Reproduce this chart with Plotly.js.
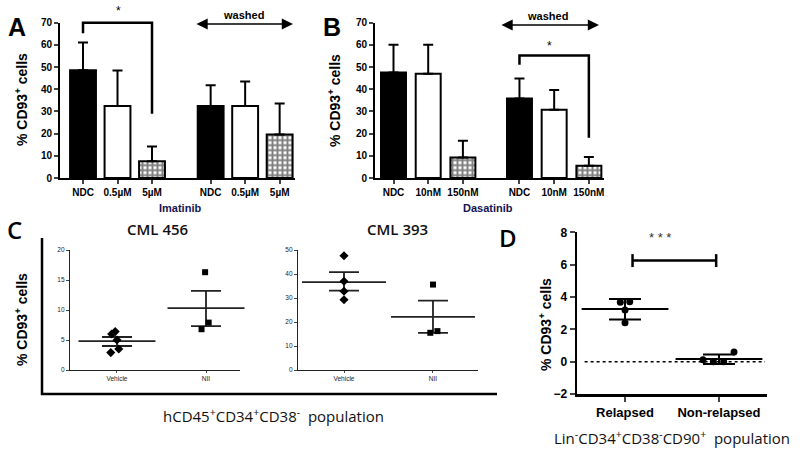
<!DOCTYPE html>
<html>
<head>
<meta charset="utf-8">
<script src="https://cdn.plot.ly/plotly-3.0.1.min.js"></script>
<style>html,body{margin:0;padding:0;background:#fff;}#chart{width:800px;height:455px;}</style>
</head>
<body>
<div id="chart"></div>
<script>
// ---------- DATA ----------
const catsA = ['NDC', '0.5µM', '5µM', 'NDC', '0.5µM', '5µM'];
const meanA = [48.6, 32.4, 7.5, 32.4, 32.4, 19.6];
const sdA = [12.5, 16.1, 6.7, 9.4, 11.1, 14.0];

const catsB = ['NDC', '10nM', '150nM', 'NDC', '10nM', '150nM'];
const meanB = [47.6, 47.0, 9.2, 35.8, 30.8, 5.5];
const sdB = [12.5, 13.1, 7.6, 9.0, 8.9, 4.0];

const groupsC = ['Vehicle', 'NII'];
const c456Vehicle = [6.4, 6.0, 5.0, 3.5, 2.9];
const c456NII = [16.3, 7.9, 6.8];
const c456Mean = [4.8, 10.3];
const c456SemUp = [0.7, 2.9];
const c456SemDown = [0.8, 3.0];

const c393Vehicle = [47.6, 37.0, 32.8, 29.3];
const c393NII = [35.6, 16.2, 15.5];
const c393Mean = [36.6, 22.1];
const c393SemUp = [4.2, 6.8];
const c393SemDown = [3.5, 6.6];

const groupsD = ['Relapsed', 'Non-relapsed'];
const dRelapsed = [3.7, 3.68, 3.19, 2.4];
const dNonRelapsed = [0.12, 0.0, 0.0, 0.6];
const dMean = [3.25, 0.17];
const dSdUp = [0.62, 0.28];
const dSdDown = [0.64, 0.31];

// ---------- LAYOUT HELPERS ----------
const W = 800, H = 455;
const px = x => x / W;
const py = y => 1 - y / H;
const FB = 'Liberation Sans, Arial, sans-serif';
const FO = 'Open Sans, Liberation Sans, sans-serif';

const ax = {
  A: {xd: [60, 295], yd: [178, 22.7], xr: [-0.667, 6.145], yr: [0, 70]},
  B: {xd: [375, 604], yd: [178, 22.7], xr: [-0.533, 6.066], yr: [0, 70]},
  C1: {xd: [70, 240], yd: [370, 250], xr: [-0.528, 1.382], yr: [0, 20]},
  C2: {xd: [298, 478], yd: [370, 250], xr: [-0.517, 1.506], yr: [0, 50]},
  D: {xd: [577, 767], yd: [394, 232.3], xr: [-0.511, 1.511], yr: [-2, 8]}
};
function dx(k, v) { const a = ax[k]; return px(a.xd[0] + (v - a.xr[0]) / (a.xr[1] - a.xr[0]) * (a.xd[1] - a.xd[0])); }
function dy(k, v) { const a = ax[k]; return py(a.yd[0] + (v - a.yr[0]) / (a.yr[1] - a.yr[0]) * (a.yd[1] - a.yd[0])); }
function xdom(k) { return [px(ax[k].xd[0]), px(ax[k].xd[1])]; }
function ydom(k) { return [py(ax[k].yd[0]), py(ax[k].yd[1])]; }

const gapA = 0.7, gapB = 0.63;
const posA = catsA.map((c, i) => i + (i >= 3 ? gapA : 0));
const posB = catsB.map((c, i) => i + (i >= 3 ? gapB : 0));

// kind 0 = solid black, 1 = open, 2 = checkered
function barTraces(pos, mean, sd, xa, ya, width) {
  const out = [];
  for (let kind = 0; kind < 3; kind++) {
    const idx = pos.map((p, i) => i).filter(i => i % 3 === kind);
    const marker = {color: kind === 0 ? 'black' : 'white', line: {color: 'black', width: 2}};
    if (kind === 2) marker.pattern = {shape: '+', fgcolor: 'black', bgcolor: 'white', size: 5, solidity: 0.62, fillmode: 'overlay'};
    out.push({
      type: 'bar', x: idx.map(i => pos[i]), y: idx.map(i => mean[i]), xaxis: xa, yaxis: ya, width: width,
      marker: marker,
      error_y: {type: 'data', symmetric: false, array: idx.map(i => sd[i]), arrayminus: idx.map(() => 0),
        color: 'black', thickness: 2, width: 5},
      hoverinfo: 'skip'
    });
  }
  return out;
}

function pointsTrace(vals, center, jit, xa, ya, symbol, size) {
  return {
    type: 'scatter', mode: 'markers', x: vals.map((v, i) => center + jit[i]), y: vals,
    xaxis: xa, yaxis: ya, cliponaxis: false,
    marker: {symbol: symbol, size: size, color: 'black'}, hoverinfo: 'skip'
  };
}
function meanTrace(means, up, down, xa, ya, lw, capw, color, thick) {
  return {
    type: 'scatter', mode: 'markers', x: means.map((m, i) => i), y: means,
    xaxis: xa, yaxis: ya, cliponaxis: false,
    marker: {symbol: 'line-ew', size: lw, color: color, line: {color: color, width: thick}},
    error_y: {type: 'data', symmetric: false, array: up, arrayminus: down, color: color, thickness: thick, width: capw},
    hoverinfo: 'skip'
  };
}

const data = [].concat(
  barTraces(posA, meanA, sdA, 'x', 'y', 0.75),
  barTraces(posB, meanB, sdB, 'x2', 'y2', 0.72),
  [
    meanTrace(c456Mean, c456SemUp, c456SemDown, 'x3', 'y3', 55, 15, '#222', 1.8),
    pointsTrace(c456Vehicle, 0, [-0.02, -0.06, 0.0, 0.02, -0.07], 'x3', 'y3', 'diamond', 7),
    pointsTrace(c456NII, 1, [-0.01, 0.03, -0.05], 'x3', 'y3', 'square', 6),
    meanTrace(c393Mean, c393SemUp, c393SemDown, 'x4', 'y4', 60, 15, '#222', 1.8),
    pointsTrace(c393Vehicle, 0, [0, 0, 0, 0], 'x4', 'y4', 'diamond', 7),
    pointsTrace(c393NII, 1, [0.0, 0.05, -0.03], 'x4', 'y4', 'square', 6),
    meanTrace(dMean, dSdUp, dSdDown, 'x5', 'y5', 62, 16, 'black', 2),
    pointsTrace(dRelapsed, 0, [0.05, -0.05, 0, 0], 'x5', 'y5', 'circle', 7),
    pointsTrace(dNonRelapsed, 1, [-0.17, -0.06, 0.05, 0.16], 'x5', 'y5', 'circle', 7)
  ]
);

const boldTick = s => ({family: FB, size: s, color: 'black', weight: 'bold'});
function barY(k, xa) {
  return {domain: ydom(k), range: ax[k].yr, dtick: 10, tick0: 0, ticks: 'outside', ticklen: 4, tickwidth: 2,
    showline: true, linewidth: 2, linecolor: 'black', showgrid: false, zeroline: false, tickfont: boldTick(10), anchor: xa, fixedrange: true};
}
function barX(k, pos, cats, ya) {
  return {domain: xdom(k), range: ax[k].xr, tickvals: pos, ticktext: cats, ticks: 'outside', ticklen: 4, tickwidth: 2,
    showline: true, linewidth: 2, linecolor: 'black', showgrid: false, zeroline: false, tickfont: boldTick(10), anchor: ya, fixedrange: true};
}
function cY(k, xa, dt) {
  return {domain: ydom(k), range: ax[k].yr, dtick: dt, tick0: 0, ticks: 'outside', ticklen: 3, tickwidth: 1,
    showline: true, linewidth: 1.2, linecolor: '#222', showgrid: false, zeroline: false,
    tickfont: {family: FB, size: 6.5, color: '#222'}, anchor: xa, fixedrange: true};
}
function cX(k, ya) {
  return {domain: xdom(k), range: ax[k].xr, tickvals: [0, 1], ticktext: groupsC, ticks: 'outside', ticklen: 2, tickwidth: 1,
    showline: true, linewidth: 1.2, linecolor: '#222', showgrid: false, zeroline: false,
    tickfont: {family: FB, size: 6.5, color: '#222'}, anchor: ya, fixedrange: true};
}

const ann = [];
function txt(x, y, t, size, opts) {
  ann.push(Object.assign({xref: 'paper', yref: 'paper', x: px(x), y: py(y), text: t, showarrow: false,
    xanchor: 'center', yanchor: 'middle', font: {family: FB, size: size, color: 'black'}}, opts || {}));
}
const boldF = (s, c) => ({family: FB, size: s, color: c || 'black', weight: 'bold'});
txt(17, 27, 'A', 25, {font: boldF(25)});
txt(332, 27, 'B', 25, {font: boldF(25)});
txt(14, 229, 'C', 25, {font: {family: FO, size: 24, color: 'black', weight: 600}});
txt(508, 237, 'D', 25, {font: {family: FO, size: 24, color: 'black', weight: 600}});
const ytitle = '% CD93<sup>+</sup> cells';
txt(21, 100, ytitle, 14, {textangle: -90, font: boldF(14)});
txt(334, 101, ytitle, 14, {textangle: -90, font: boldF(14)});
txt(21, 320, ytitle, 14, {textangle: -90, font: boldF(14)});
txt(545, 325, ytitle, 14, {textangle: -90, font: boldF(14)});
txt(243, 15, 'washed', 11, {font: boldF(11)});
txt(547, 16, 'washed', 11, {font: boldF(11)});
txt(118, 11, '*', 12, {font: {family: FB, size: 12, color: 'black'}});
ann.push({xref: 'paper', yref: 'paper', x: dx('B', 4.63), y: dy('B', 63.5), text: '*', showarrow: false,
  font: {family: FB, size: 12, color: 'black'}});
txt(180, 208, 'Imatinib', 11, {font: boldF(11, '#141450')});
txt(488, 208, 'Dasatinib', 11, {font: boldF(11, '#141450')});
txt(157, 229, 'CML 456', 15, {font: {family: FO, size: 15, color: '#111', weight: 600}});
txt(397, 229, 'CML 393', 15, {font: {family: FO, size: 15, color: '#111', weight: 600}});
txt(273, 415, 'hCD45<sup>+</sup>CD34<sup>+</sup>CD38<sup>-</sup>  population', 15, {font: {family: FO, size: 15, color: '#111'}});
txt(672, 437, 'Lin<sup>-</sup>CD34<sup>+</sup>CD38<sup>-</sup>CD90<sup>+</sup>  population', 15, {font: {family: FO, size: 15, color: '#111'}});
ann.push({xref: 'paper', yref: 'paper', x: dx('D', 0.51), y: dy('D', 7.7), text: '* * *', showarrow: false,
  font: {family: FB, size: 13, color: '#333'}});

// double arrows
function dblArrow(x1, x2, y) {
  ann.push({xref: 'paper', yref: 'paper', x: px(x2), y: py(y), ax: x1 - x2, ay: 0, axref: 'pixel', ayref: 'pixel',
    text: '', showarrow: true, arrowside: 'end+start', arrowhead: 2, arrowsize: 1.4, arrowwidth: 1.6, arrowcolor: 'black',
    standoff: 0, startstandoff: 0});
}
dblArrow(195, 293, 24);
dblArrow(500, 599, 25);

const shapes = [];
function path(d, w, dash) {
  shapes.push({type: 'path', xref: 'paper', yref: 'paper', path: d, line: {color: 'black', width: w, dash: dash || 'solid'}, layer: 'above'});
}
// significance brackets
path(`M${dx('A', posA[0])},${dy('A', 65.2)} L${dx('A', posA[0])},${dy('A', 70)} L${dx('A', posA[2])},${dy('A', 70)} L${dx('A', posA[2])},${dy('A', 29)}`, 2.5);
path(`M${dx('B', posB[3])},${dy('B', 51.1)} L${dx('B', posB[3])},${dy('B', 55.2)} L${dx('B', posB[5])},${dy('B', 55.2)} L${dx('B', posB[5])},${dy('B', 18.1)}`, 2.5);
// C frame
path(`M${px(42)},${py(238)} L${px(42)},${py(394)} L${px(497)},${py(394)}`, 2.5);
// D significance bar
path(`M${dx('D', 0.08)},${dy('D', 6.25)} L${dx('D', 0.97)},${dy('D', 6.25)}`, 2.5);
path(`M${dx('D', 0.08)},${dy('D', 5.85)} L${dx('D', 0.08)},${dy('D', 6.65)}`, 2.5);
path(`M${dx('D', 0.97)},${dy('D', 5.85)} L${dx('D', 0.97)},${dy('D', 6.65)}`, 2.5);
// D zero reference line
path(`M${dx('D', -0.43)},${dy('D', 0)} L${dx('D', 1.49)},${dy('D', 0)}`, 1.5, 'dot');

const layout = {
  width: W, height: H, margin: {l: 0, r: 0, t: 0, b: 0},
  paper_bgcolor: 'white', plot_bgcolor: 'rgba(0,0,0,0)', showlegend: false,
  font: {family: FB, color: 'black'},
  xaxis: barX('A', posA, catsA, 'y'), yaxis: barY('A', 'x'),
  xaxis2: barX('B', posB, catsB, 'y2'), yaxis2: barY('B', 'x2'),
  xaxis3: cX('C1', 'y3'), yaxis3: cY('C1', 'x3', 5),
  xaxis4: cX('C2', 'y4'), yaxis4: cY('C2', 'x4', 10),
  xaxis5: {domain: xdom('D'), range: ax.D.xr, tickvals: [0, 1], ticktext: groupsD, ticks: 'outside', ticklen: 5, tickwidth: 2,
    showline: true, linewidth: 2.5, linecolor: 'black', showgrid: false, zeroline: false, tickfont: boldTick(13), anchor: 'y5', fixedrange: true},
  yaxis5: {domain: ydom('D'), range: ax.D.yr, dtick: 2, tick0: 0, ticks: 'outside', ticklen: 5, tickwidth: 2,
    showline: true, linewidth: 2.5, linecolor: 'black', showgrid: false, zeroline: false, tickfont: boldTick(12), anchor: 'x5', fixedrange: true},
  annotations: ann, shapes: shapes, barmode: 'overlay'
};

Plotly.newPlot('chart', data, layout, {staticPlot: true, displayModeBar: false});
</script>
</body>
</html>
